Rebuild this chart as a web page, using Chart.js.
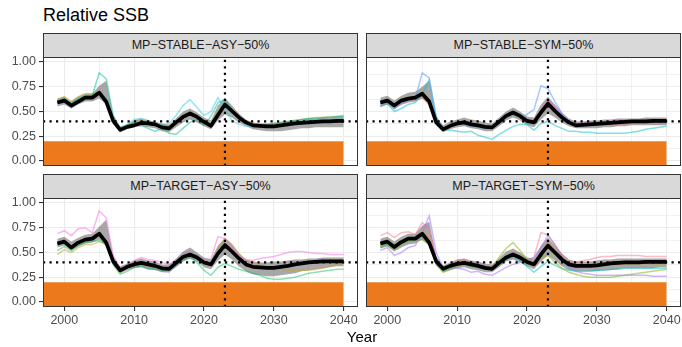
<!DOCTYPE html>
<html>
<head>
<meta charset="utf-8">
<script src="https://cdn.jsdelivr.net/npm/chart.js@4.4.1/dist/chart.umd.min.js"></script>
<style>
  html, body { margin: 0; padding: 0; background: #fff; }
  body { width: 682px; height: 347px; position: relative; overflow: hidden;
         font-family: "Liberation Sans", Arial, sans-serif; }
  .title { position: absolute; left: 43px; top: 6px; font-size: 18px; line-height: 18px; color: #000; white-space: nowrap; }
  .strip { position: absolute; width: 315px; height: 25px; box-sizing: border-box;
           background: #d9d9d9; border: 1px solid #333; color: #1a1a1a;
           font-size: 12.5px; line-height: 23px; text-align: center; white-space: nowrap; }
  .xtitle { position: absolute; left: 43px; width: 638px; top: 329px; font-size: 15px; line-height: 15px;
            text-align: center; color: #000; }
  canvas { position: absolute; }
</style>
</head>
<body>
<div class="title">Relative SSB</div>

<div class="strip" style="left:43px; top:33px;">MP−STABLE−ASY−50%</div>
<div class="strip" style="left:366px; top:33px;">MP−STABLE−SYM−50%</div>
<div class="strip" style="left:43px; top:174px;">MP−TARGET−ASY−50%</div>
<div class="strip" style="left:366px; top:174px;">MP−TARGET−SYM−50%</div>

<canvas id="pTL" width="360" height="113" style="left:0px; top:55px;"></canvas>
<canvas id="pTR" width="318" height="113" style="left:364px; top:55px;"></canvas>
<canvas id="pBL" width="360" height="137" style="left:0px; top:196px;"></canvas>
<canvas id="pBR" width="318" height="137" style="left:364px; top:196px;"></canvas>

<div class="xtitle">Year</div>

<script>
// ---- years and reference points ----
const years = [1999, 2000, 2001, 2002, 2003, 2004, 2005, 2006, 2007, 2008, 2009, 2010, 2011, 2012,
               2013, 2014, 2015, 2016, 2017, 2018, 2019, 2020, 2021, 2022, 2023, 2024, 2025, 2026,
               2027, 2028, 2029, 2030, 2031, 2032, 2033, 2034, 2035, 2036, 2037, 2038, 2039, 2040];
const BLIM = 0.2;          // limit reference point (orange zone top)
const TARGET = 0.4;        // target level (horizontal dotted line)
const ASSESS_YEAR = 2023;  // last assessment year (vertical dotted line)
const xMajorTicks = [2000, 2010, 2020, 2030, 2040];
const xMinorTicks = [2005, 2015, 2025, 2035];
const yMajorTicks = [0, 0.25, 0.5, 0.75, 1];
const yMinorTicks = [0.125, 0.375, 0.625, 0.875];

// ---- MP-STABLE-ASY-50% ----
const stableAsyMedian = [0.59,0.61,0.56,0.60,0.64,0.64,0.69,0.60,0.405,0.315,0.345,0.36,0.385,0.38,0.37,0.34,0.33,0.39,0.445,0.48,0.445,0.395,0.355,0.465,0.57,0.505,0.44,0.39,0.36,0.355,0.35,0.35,0.36,0.37,0.38,0.385,0.39,0.395,0.40,0.40,0.405,0.405];
const stableAsyLower  = [0.55,0.57,0.53,0.57,0.60,0.60,0.63,0.57,0.37,0.29,0.32,0.34,0.35,0.34,0.33,0.30,0.29,0.34,0.39,0.42,0.39,0.35,0.32,0.41,0.47,0.44,0.39,0.35,0.32,0.31,0.30,0.30,0.30,0.31,0.32,0.33,0.33,0.34,0.34,0.34,0.34,0.34];
const stableAsyUpper  = [0.63,0.65,0.60,0.65,0.68,0.68,0.76,0.81,0.46,0.35,0.37,0.41,0.43,0.41,0.40,0.38,0.37,0.43,0.50,0.53,0.49,0.44,0.41,0.56,0.64,0.56,0.48,0.42,0.39,0.38,0.38,0.38,0.39,0.40,0.41,0.42,0.43,0.43,0.44,0.44,0.45,0.45];
const stableAsyRunA   = [0.60,0.63,0.58,0.63,0.66,0.66,0.89,0.83,0.46,0.33,0.35,0.39,0.36,0.33,0.30,0.33,0.28,0.27,0.33,0.39,0.42,0.36,0.45,0.59,0.62,0.52,0.44,0.39,0.37,0.37,0.37,0.38,0.39,0.40,0.41,0.42,0.43,0.43,0.44,0.44,0.45,0.45];
const stableAsyRunB   = [0.58,0.60,0.55,0.60,0.63,0.63,0.70,0.63,0.41,0.33,0.37,0.42,0.43,0.41,0.38,0.37,0.38,0.46,0.56,0.62,0.54,0.46,0.50,0.64,0.52,0.41,0.37,0.35,0.35,0.35,0.35,0.36,0.37,0.38,0.39,0.40,0.41,0.41,0.42,0.42,0.42,0.43];
const stableAsyRunC   = [0.62,0.65,0.60,0.65,0.68,0.68,0.70,0.62,0.42,0.33,0.36,0.39,0.41,0.40,0.38,0.36,0.35,0.40,0.45,0.47,0.44,0.40,0.38,0.50,0.58,0.52,0.45,0.40,0.38,0.37,0.37,0.38,0.39,0.40,0.41,0.42,0.43,0.44,0.44,0.45,0.45,0.46];

// ---- MP-STABLE-SYM-50% ----
const stableSymMedian = [0.59,0.61,0.56,0.61,0.63,0.64,0.68,0.60,0.39,0.32,0.355,0.38,0.39,0.37,0.36,0.345,0.34,0.395,0.455,0.49,0.455,0.405,0.39,0.49,0.58,0.505,0.44,0.39,0.36,0.365,0.37,0.375,0.38,0.385,0.39,0.395,0.40,0.40,0.40,0.405,0.405,0.405];
const stableSymLower  = [0.55,0.57,0.52,0.57,0.59,0.60,0.63,0.57,0.36,0.29,0.32,0.34,0.35,0.33,0.32,0.30,0.30,0.35,0.41,0.44,0.41,0.36,0.34,0.42,0.48,0.44,0.39,0.35,0.33,0.33,0.33,0.33,0.34,0.34,0.35,0.35,0.36,0.36,0.36,0.36,0.36,0.36];
const stableSymUpper  = [0.64,0.66,0.61,0.66,0.69,0.70,0.75,0.81,0.44,0.36,0.40,0.42,0.44,0.42,0.41,0.39,0.38,0.44,0.50,0.54,0.50,0.45,0.44,0.57,0.65,0.57,0.49,0.43,0.40,0.40,0.41,0.41,0.42,0.42,0.43,0.43,0.43,0.43,0.44,0.44,0.44,0.44];
const stableSymRunA   = [0.57,0.60,0.53,0.58,0.61,0.63,0.89,0.84,0.44,0.33,0.35,0.37,0.37,0.35,0.34,0.33,0.33,0.38,0.44,0.47,0.44,0.47,0.52,0.76,0.73,0.60,0.48,0.40,0.37,0.37,0.38,0.38,0.39,0.39,0.40,0.40,0.40,0.41,0.41,0.41,0.41,0.41];
const stableSymRunB   = [0.55,0.58,0.50,0.53,0.57,0.59,0.67,0.82,0.45,0.32,0.31,0.30,0.29,0.30,0.26,0.24,0.22,0.27,0.31,0.35,0.37,0.37,0.31,0.38,0.40,0.36,0.33,0.30,0.30,0.29,0.29,0.28,0.28,0.28,0.28,0.28,0.29,0.30,0.32,0.33,0.34,0.35];
const stableSymRunC   = [0.58,0.60,0.55,0.59,0.62,0.63,0.68,0.62,0.40,0.33,0.36,0.38,0.40,0.38,0.37,0.35,0.36,0.41,0.47,0.50,0.46,0.41,0.39,0.52,0.62,0.55,0.47,0.41,0.38,0.38,0.39,0.39,0.40,0.40,0.41,0.41,0.41,0.41,0.41,0.41,0.41,0.41];
const stableSymRunD   = [0.55,0.58,0.54,0.57,0.60,0.61,0.64,0.57,0.39,0.32,0.35,0.37,0.38,0.36,0.35,0.33,0.33,0.38,0.44,0.47,0.44,0.40,0.38,0.47,0.55,0.49,0.43,0.38,0.36,0.36,0.36,0.36,0.36,0.37,0.37,0.37,0.38,0.38,0.38,0.38,0.38,0.38];

// ---- MP-TARGET-ASY-50% ----
const targetAsyMedian = [0.59,0.61,0.55,0.60,0.63,0.64,0.69,0.60,0.41,0.32,0.355,0.38,0.395,0.38,0.365,0.34,0.335,0.395,0.455,0.48,0.45,0.40,0.38,0.49,0.575,0.51,0.44,0.38,0.355,0.35,0.345,0.345,0.355,0.365,0.38,0.39,0.40,0.405,0.41,0.41,0.41,0.41];
const targetAsyLower  = [0.55,0.57,0.52,0.56,0.59,0.60,0.63,0.57,0.37,0.29,0.32,0.34,0.35,0.33,0.32,0.30,0.30,0.35,0.41,0.44,0.41,0.35,0.33,0.42,0.48,0.43,0.36,0.31,0.28,0.27,0.26,0.26,0.27,0.28,0.29,0.31,0.32,0.33,0.34,0.35,0.36,0.36];
const targetAsyUpper  = [0.64,0.66,0.61,0.65,0.68,0.69,0.76,0.83,0.46,0.36,0.39,0.42,0.44,0.42,0.41,0.38,0.38,0.44,0.51,0.55,0.50,0.45,0.43,0.57,0.65,0.58,0.49,0.43,0.41,0.40,0.40,0.41,0.41,0.42,0.43,0.43,0.44,0.44,0.45,0.45,0.45,0.45];
const targetAsyRunA   = [0.69,0.72,0.67,0.74,0.75,0.70,0.92,0.85,0.47,0.34,0.37,0.42,0.45,0.43,0.42,0.40,0.38,0.42,0.47,0.50,0.46,0.42,0.44,0.66,0.64,0.55,0.47,0.43,0.42,0.44,0.45,0.46,0.48,0.50,0.51,0.51,0.50,0.49,0.49,0.48,0.48,0.48];
const targetAsyRunB   = [0.48,0.53,0.50,0.55,0.58,0.58,0.61,0.58,0.40,0.30,0.34,0.37,0.38,0.36,0.35,0.33,0.34,0.40,0.46,0.49,0.45,0.39,0.40,0.53,0.64,0.58,0.49,0.42,0.39,0.37,0.35,0.34,0.33,0.32,0.32,0.32,0.32,0.33,0.34,0.36,0.38,0.39];
const targetAsyRunC   = [0.52,0.56,0.52,0.57,0.60,0.61,0.62,0.58,0.38,0.28,0.31,0.35,0.36,0.34,0.33,0.32,0.32,0.37,0.42,0.45,0.40,0.32,0.27,0.35,0.39,0.36,0.33,0.31,0.29,0.27,0.24,0.23,0.23,0.24,0.25,0.27,0.29,0.30,0.31,0.32,0.33,0.33];
const targetAsyRunD   = [0.57,0.60,0.55,0.59,0.62,0.63,0.67,0.62,0.40,0.31,0.34,0.37,0.38,0.33,0.35,0.31,0.30,0.37,0.44,0.47,0.44,0.40,0.37,0.50,0.58,0.51,0.43,0.37,0.35,0.34,0.34,0.35,0.36,0.37,0.38,0.39,0.40,0.40,0.41,0.41,0.41,0.41];

// ---- MP-TARGET-SYM-50% ----
const targetSymMedian = [0.59,0.61,0.555,0.605,0.64,0.64,0.69,0.60,0.41,0.335,0.365,0.385,0.395,0.38,0.365,0.345,0.335,0.395,0.45,0.48,0.45,0.405,0.38,0.48,0.57,0.50,0.43,0.38,0.365,0.365,0.365,0.37,0.38,0.39,0.395,0.40,0.40,0.40,0.405,0.405,0.405,0.405];
const targetSymLower  = [0.54,0.56,0.51,0.55,0.58,0.59,0.63,0.57,0.37,0.30,0.32,0.34,0.35,0.33,0.32,0.30,0.30,0.35,0.41,0.43,0.40,0.36,0.33,0.41,0.47,0.42,0.36,0.32,0.31,0.31,0.31,0.31,0.32,0.32,0.33,0.34,0.34,0.34,0.34,0.34,0.35,0.35];
const targetSymUpper  = [0.64,0.66,0.61,0.66,0.69,0.69,0.77,0.81,0.46,0.37,0.40,0.43,0.44,0.42,0.41,0.39,0.38,0.44,0.51,0.54,0.50,0.45,0.44,0.57,0.65,0.57,0.49,0.43,0.41,0.41,0.41,0.42,0.43,0.43,0.44,0.44,0.44,0.44,0.44,0.44,0.44,0.44];
const targetSymRunA   = [0.52,0.55,0.47,0.50,0.55,0.57,0.70,0.87,0.50,0.34,0.35,0.34,0.33,0.30,0.31,0.28,0.27,0.31,0.35,0.38,0.40,0.42,0.45,0.55,0.67,0.58,0.45,0.36,0.31,0.29,0.28,0.27,0.27,0.27,0.27,0.27,0.27,0.27,0.27,0.26,0.26,0.26];
const targetSymRunB   = [0.67,0.70,0.65,0.70,0.71,0.68,0.80,0.74,0.42,0.34,0.37,0.42,0.43,0.40,0.38,0.36,0.36,0.40,0.46,0.50,0.46,0.42,0.45,0.70,0.68,0.58,0.48,0.41,0.40,0.42,0.43,0.45,0.46,0.46,0.47,0.47,0.47,0.47,0.46,0.46,0.46,0.46];
const targetSymRunC   = [0.55,0.58,0.53,0.58,0.61,0.62,0.63,0.58,0.38,0.30,0.33,0.36,0.38,0.36,0.35,0.34,0.35,0.45,0.54,0.60,0.52,0.43,0.40,0.46,0.47,0.40,0.34,0.30,0.28,0.26,0.25,0.25,0.25,0.25,0.26,0.27,0.28,0.29,0.30,0.31,0.32,0.33];
const targetSymRunD   = [0.56,0.59,0.54,0.59,0.62,0.63,0.66,0.59,0.40,0.32,0.35,0.37,0.38,0.36,0.35,0.33,0.33,0.38,0.43,0.46,0.42,0.36,0.30,0.36,0.41,0.37,0.34,0.32,0.31,0.31,0.31,0.32,0.32,0.33,0.33,0.34,0.34,0.34,0.34,0.34,0.34,0.34];
const targetSymRunE   = [0.57,0.60,0.55,0.59,0.63,0.63,0.72,0.66,0.42,0.33,0.36,0.39,0.41,0.39,0.37,0.35,0.34,0.39,0.44,0.47,0.44,0.40,0.38,0.50,0.62,0.54,0.45,0.38,0.36,0.37,0.38,0.39,0.39,0.39,0.38,0.38,0.37,0.37,0.37,0.37,0.37,0.37];

// ---- axis limits with 5% expansion, as ggplot does ----
const yMin = -0.05, yMax = 1.05;
const xSpan = years[years.length - 1] - years[0];
const xMin = years[0] - 0.05 * xSpan, xMax = years[years.length - 1] + 0.05 * xSpan;

const pts = (vals) => years.map((yr, i) => ({ x: yr, y: vals[i] }));

Chart.defaults.font.family = '"Liberation Sans", Arial, sans-serif';

// border round each facet panel, drawn over the data like a panel.border
const panelBorder = {
  id: 'panelBorder',
  afterDraw(chart) {
    const { ctx, chartArea: a } = chart;
    ctx.save();
    ctx.strokeStyle = '#333333';
    ctx.lineWidth = 1;
    ctx.strokeRect(a.left + 0.5, a.top + 0.5, a.right - a.left - 1, a.bottom - a.top - 1);
    ctx.restore();
  }
};

function makePanel(id, cfg) {
  const runColors = cfg.runColors;
  const datasets = [];
  // dotted reference lines on top
  datasets.push({ data: [{ x: xMin, y: TARGET }, { x: xMax, y: TARGET }], borderColor: '#000', borderWidth: 2.2,
                  borderDash: [2.2, 4.3], pointRadius: 0, fill: false, order: 0 });
  datasets.push({ data: [{ x: ASSESS_YEAR, y: yMin }, { x: ASSESS_YEAR, y: yMax }], borderColor: '#000', borderWidth: 2.2,
                  borderDash: [2.2, 4.3], pointRadius: 0, fill: false, order: 0 });
  // median
  datasets.push({ data: pts(cfg.median), borderColor: '#000', borderWidth: 3.7, borderJoinStyle: 'round',
                  pointRadius: 0, fill: false, order: 1 });
  // individual runs
  cfg.runs.forEach((r, k) => {
    datasets.push({ data: pts(r), borderColor: runColors[k], borderWidth: 1.5, pointRadius: 0, fill: false, order: 2 });
  });
  // ribbon: lower bound then upper bound filled down to it
  const lowerIndex = datasets.length;
  datasets.push({ data: pts(cfg.lower), borderWidth: 0, borderColor: 'rgba(0,0,0,0)', pointRadius: 0, fill: false, order: 3 });
  datasets.push({ data: pts(cfg.upper), borderWidth: 0, borderColor: 'rgba(0,0,0,0)', pointRadius: 0,
                  fill: { target: lowerIndex }, backgroundColor: 'rgba(105,105,105,0.58)', order: 3 });
  // orange zone below the limit reference point
  datasets.push({ data: [{ x: xMin, y: BLIM }, { x: years[years.length - 1], y: BLIM }], borderWidth: 0,
                  borderColor: 'rgba(0,0,0,0)', pointRadius: 0, fill: 'start', backgroundColor: '#ec7a1c', order: 4 });

  const isMajorX = (v) => xMajorTicks.includes(v);
  const isMajorY = (v) => yMajorTicks.some(t => Math.abs(t - v) < 1e-9);

  new Chart(document.getElementById(id), {
    type: 'line',
    data: { datasets },
    options: {
      responsive: false, animation: false, events: [],
      layout: { padding: cfg.padding },
      plugins: { legend: { display: false }, tooltip: { enabled: false } },
      scales: {
        x: {
          type: 'linear', min: xMin, max: xMax,
          afterBuildTicks: (s) => { s.ticks = xMajorTicks.concat(xMinorTicks).sort((a, b) => a - b).map(v => ({ value: v })); },
          afterFit: (s) => { s.height = cfg.showX ? 26 : 0; s.paddingLeft = 0; s.paddingRight = 0; },
          border: { display: false },
          grid: {
            color: '#ebebeb',
            lineWidth: (c) => (c.tick && isMajorX(c.tick.value)) ? 1.1 : 0.7,
            drawTicks: cfg.showX, tickLength: 4,
            tickColor: (c) => (c.tick && isMajorX(c.tick.value)) ? '#333333' : 'rgba(0,0,0,0)'
          },
          ticks: {
            display: cfg.showX, autoSkip: false, maxRotation: 0, padding: 2,
            color: '#4d4d4d', font: { size: 12.5 },
            callback: (v) => isMajorX(v) ? String(v) : ''
          }
        },
        y: {
          type: 'linear', min: yMin, max: yMax,
          afterBuildTicks: (s) => { s.ticks = yMajorTicks.concat(yMinorTicks).sort((a, b) => a - b).map(v => ({ value: v })); },
          afterFit: (s) => { s.width = cfg.showY ? 43 : 0; s.paddingTop = 0; s.paddingBottom = 0; },
          border: { display: false },
          grid: {
            color: '#ebebeb',
            lineWidth: (c) => (c.tick && isMajorY(c.tick.value)) ? 1.1 : 0.7,
            drawTicks: cfg.showY, tickLength: 4,
            tickColor: (c) => (c.tick && isMajorY(c.tick.value)) ? '#333333' : 'rgba(0,0,0,0)'
          },
          ticks: {
            display: cfg.showY, padding: 3,
            color: '#4d4d4d', font: { size: 12.5 },
            callback: (v) => isMajorY(v) ? v.toFixed(2) : ''
          }
        }
      }
    },
    plugins: [panelBorder]
  });
}

makePanel('pTL', {
  median: stableAsyMedian, lower: stableAsyLower, upper: stableAsyUpper,
  runs: [stableAsyRunA, stableAsyRunB, stableAsyRunC],
  runColors: ['rgba(0,190,150,0.5)', 'rgba(60,205,230,0.55)', 'rgba(185,160,40,0.55)'],
  showX: false, showY: true, padding: { top: 2, bottom: 2, left: 0, right: 2 }
});
makePanel('pTR', {
  median: stableSymMedian, lower: stableSymLower, upper: stableSymUpper,
  runs: [stableSymRunA, stableSymRunB, stableSymRunC, stableSymRunD],
  runColors: ['rgba(97,156,255,0.55)', 'rgba(0,191,196,0.5)', 'rgba(245,100,227,0.45)', 'rgba(248,118,109,0.45)'],
  showX: false, showY: false, padding: { top: 2, bottom: 2, left: 2, right: 1 }
});
makePanel('pBL', {
  median: targetAsyMedian, lower: targetAsyLower, upper: targetAsyUpper,
  runs: [targetAsyRunA, targetAsyRunB, targetAsyRunC, targetAsyRunD],
  runColors: ['rgba(245,110,225,0.5)', 'rgba(200,160,50,0.55)', 'rgba(0,186,90,0.45)', 'rgba(165,120,240,0.4)'],
  showX: true, showY: true, padding: { top: 2, bottom: 0, left: 0, right: 2 }
});
makePanel('pBR', {
  median: targetSymMedian, lower: targetSymLower, upper: targetSymUpper,
  runs: [targetSymRunA, targetSymRunB, targetSymRunC, targetSymRunD, targetSymRunE],
  runColors: ['rgba(160,120,255,0.55)', 'rgba(250,120,140,0.5)', 'rgba(124,174,0,0.5)', 'rgba(0,191,196,0.5)', 'rgba(230,150,60,0.45)'],
  showX: true, showY: false, padding: { top: 2, bottom: 0, left: 2, right: 1 }
});
</script>
</body>
</html>
